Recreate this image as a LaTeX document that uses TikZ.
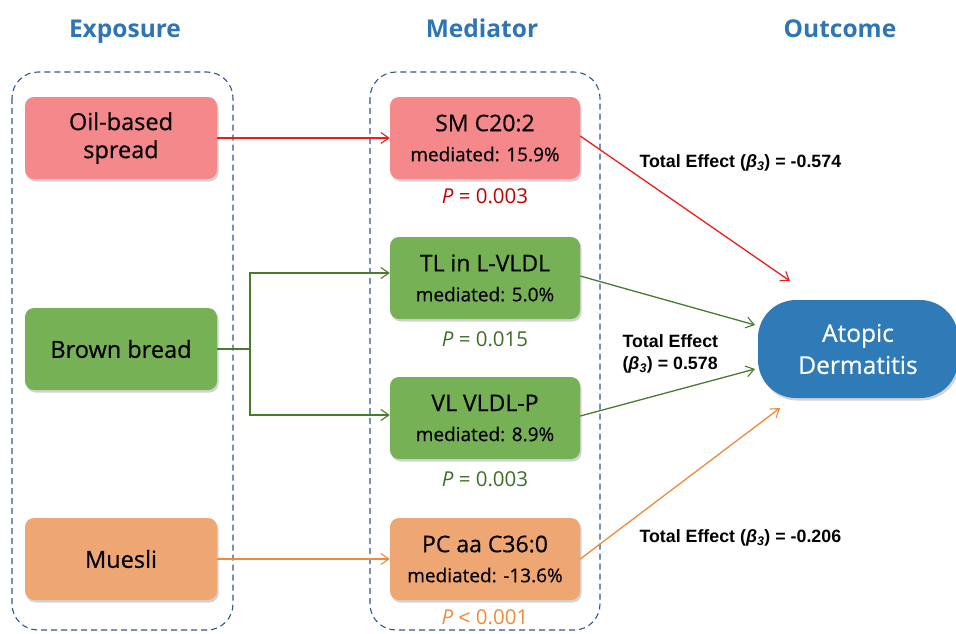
\documentclass[tikz,border=0pt]{standalone}
\usepackage{fontspec}
\setmainfont{Open Sans}
\newfontfamily\boxf{Open Sans}[FakeBold=0.5]
\newfontfamily\arialf{Liberation Sans}
\usetikzlibrary{arrows.meta,shadows,calc}
\definecolor{hdr}{HTML}{2E75B6}
\definecolor{pinkf}{HTML}{F4888A}
\definecolor{greenf}{HTML}{77B155}
\definecolor{orangef}{HTML}{EEA673}
\definecolor{bluef}{HTML}{2E7BB8}
\definecolor{dashc}{HTML}{2F5597}
\definecolor{redl}{HTML}{EE1C1C}
\definecolor{greenl}{HTML}{4A7A2E}
\definecolor{orangel}{HTML}{EE8A3A}
\definecolor{redt}{HTML}{C00000}
\definecolor{greent}{HTML}{3F6D26}
\tikzset{
  hdrtext/.style={text=hdr,font=\fontsize{24.5}{28}\selectfont\bfseries,anchor=base},
  group/.style={draw=dashc,dash pattern=on 6pt off 4pt,line width=1.1pt,rounded corners=26pt},
  boxbase/.style={rounded corners=9pt,minimum width=192pt,minimum height=82pt,align=center,
    drop shadow={opacity=0.35,shadow xshift=1.5pt,shadow yshift=-2.5pt}},
  expbox/.style={boxbase,font=\boxf\fontsize{23.5}{28}\selectfont},
  medbox/.style={boxbase,minimum width=190pt,font=\boxf\fontsize{23}{30}\selectfont},
  medsub/.style={},
  pval/.style={font=\fontsize{20.5}{24}\selectfont},
  effect/.style={font=\arialf\bfseries\fontsize{17.8}{22}\selectfont,align=left},
  arr/.style={line width=1.3pt,-{Straight Barb[length=8pt,width=11pt,line width=1.1pt]}},
}
\newcommand\medtxt[1]{{\fontsize{19}{22}\selectfont #1}}
\begin{document}
\begin{tikzpicture}[x=1pt,y=-1pt]
\useasboundingbox (0,0) rectangle (956,633);
% headers
\node[hdrtext] (h1) at (125,37) {Exposure};
\node[hdrtext] (h2) at (482,37) {Mediator};
\node[hdrtext] (h3) at (840,37) {Outcome};
% groups
\draw[group] (12,72) rectangle (233,630);
\draw[group] (370,72) rectangle (600,630);
% exposure boxes
\node[expbox,fill=pinkf] (oil) at (121,138) {Oil-based\\spread};
\node[expbox,fill=greenf] (bb) at (121,349) {Brown bread};
\node[expbox,fill=orangef] (mu) at (121,559) {Muesli};
% mediator boxes
\node[medbox,fill=pinkf] (sm) at (485,138) {SM C20:2\\\medtxt{mediated: 15.9\%}};
\node[medbox,fill=greenf] (tl) at (485,278) {TL in L-VLDL\\\medtxt{mediated: 5.0\%}};
\node[medbox,fill=greenf] (vl) at (485,418) {VL VLDL-P\\\medtxt{mediated: 8.9\%}};
\node[medbox,fill=orangef] (pc) at (485,559) {PC aa C36:0\\\medtxt{mediated: -13.6\%}};
% p values
\node[pval,text=redt] (p1) at (485,196) {\textit{P} = 0.003};
\node[pval,text=greent] (p2) at (485,339) {\textit{P} = 0.015};
\node[pval,text=greent] (p3) at (485,479) {\textit{P} = 0.003};
\node[pval,text=orangel] (p4) at (485,617) {\textit{P} {\arialf<} 0.001};
% outcome
\node[fill=bluef,rounded corners=38pt,minimum width=200pt,minimum height=98pt,align=center,
  text=white,font=\boxf\fontsize{24.5}{32}\selectfont,
  drop shadow={opacity=0.35,shadow xshift=1.5pt,shadow yshift=-2.5pt}] (ad) at (858,349) {Atopic\\Dermatitis};
% connectors
\coordinate (split) at (250,349);
\coordinate (g1) at (755,325);
\coordinate (g2) at (755,369);
\coordinate (o1) at (780,408);
\coordinate (r1) at (790,281);
\draw[arr,redl] (oil.east) -- (sm.west);
\draw[arr,redl] ([yshift=2pt]sm.east) -- (r1);
\draw[line width=1.2pt,greenl] (bb.east) -- (split);
\draw[arr,greenl] (split) |- ([yshift=5pt]tl.west);
\draw[arr,greenl] (split) |- ([yshift=3pt]vl.west);
\draw[arr,orangel] (mu.east) -- (pc.west);
\draw[arr,greenl] ([yshift=2pt]tl.east) -- (g1);
\draw[arr,greenl] ([yshift=2pt]vl.east) -- (g2);
\draw[arr,orangel] (pc.east) -- (o1);
% effects
\node[effect,anchor=west] (e1) at (636,163) {Total Effect (\textit{β\textsubscript{3}}) = -0.574};
\node[effect,anchor=west] (e2) at (619,354) {Total Effect\\(\textit{β\textsubscript{3}}) = 0.578};
\node[effect,anchor=west] (e3) at (636,538) {Total Effect (\textit{β\textsubscript{3}}) = -0.206};
\end{tikzpicture}
\end{document}
